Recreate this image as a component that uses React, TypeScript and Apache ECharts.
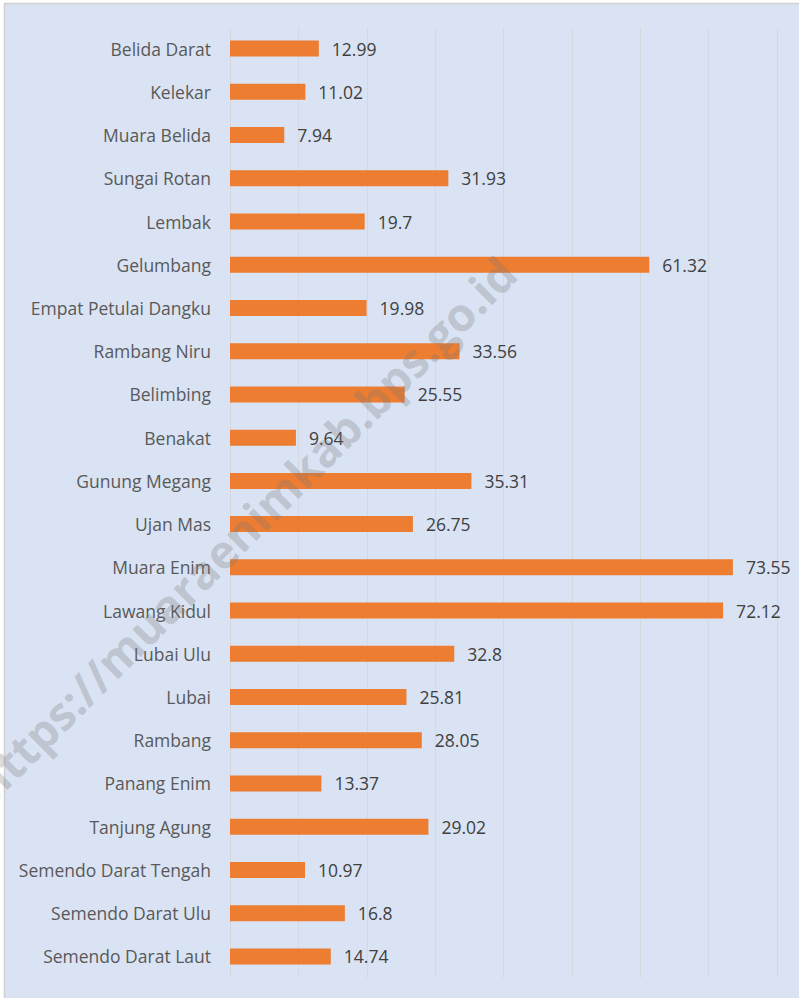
import React, { useEffect, useRef } from "react";
import * as echarts from "echarts";

const categories = [
  "Belida Darat",
  "Kelekar",
  "Muara Belida",
  "Sungai Rotan",
  "Lembak",
  "Gelumbang",
  "Empat Petulai Dangku",
  "Rambang Niru",
  "Belimbing",
  "Benakat",
  "Gunung Megang",
  "Ujan Mas",
  "Muara Enim",
  "Lawang Kidul",
  "Lubai Ulu",
  "Lubai",
  "Rambang",
  "Panang Enim",
  "Tanjung Agung",
  "Semendo Darat Tengah",
  "Semendo Darat Ulu",
  "Semendo Darat Laut",
];

const values = [
  12.99, 11.02, 7.94, 31.93, 19.7, 61.32, 19.98, 33.56, 25.55, 9.64, 35.31,
  26.75, 73.55, 72.12, 32.8, 25.81, 28.05, 13.37, 29.02, 10.97, 16.8, 14.74,
];

const watermark = "https://muaraenimkab.bps.go.id";

export default function App() {
  const ref = useRef<HTMLDivElement>(null);

  useEffect(() => {
    if (!ref.current) return;
    const chart = echarts.init(ref.current, null, { renderer: "svg" });
    chart.setOption({
      animation: false,
      backgroundColor: "#ffffff",
      textStyle: { fontFamily: "Open Sans" },
      grid: { left: 230, right: 22, top: 27, bottom: 20, containLabel: false },
      xAxis: {
        type: "value",
        min: 0,
        max: 80,
        interval: 10,
        axisLabel: { show: false },
        axisLine: { show: false },
        axisTick: { show: false },
        splitLine: { show: true, lineStyle: { color: "#d5d8dd", width: 1 } },
      },
      yAxis: {
        type: "category",
        data: categories,
        inverse: true,
        axisLine: { show: false },
        axisTick: { show: false },
        splitLine: { show: false },
        axisLabel: {
          margin: 19,
          color: "#595959",
          fontSize: 17.5,
          fontFamily: "Open Sans",
        },
      },
      series: [
        {
          type: "bar",
          data: values,
          barWidth: 16,
          itemStyle: { color: "#ed7d31" },
          label: {
            show: true,
            position: "right",
            distance: 13,
            color: "#404040",
            fontSize: 17.5,
            fontFamily: "Open Sans",
          },
          z: 2,
        },
      ],
      graphic: [
        {
          type: "rect",
          z: -10,
          silent: true,
          shape: { x: 4.5, y: 3.5, width: 800, height: 1000 },
          style: { fill: "#dae3f3", stroke: "#d0d0d0", lineWidth: 1.5 },
        },
        {
          type: "text",
          z: 100,
          silent: true,
          x: 244,
          y: 528,
          rotation: Math.PI / 4,
          style: {
            text: watermark,
            fontSize: 46,
            fontWeight: "bold",
            fontFamily: "Open Sans",
            fill: "rgba(120,120,120,0.3)",
            align: "center",
            verticalAlign: "middle",
          },
        },
      ],
    });
    return () => chart.dispose();
  }, []);

  return (
    <div
      ref={ref}
      style={{ position: "absolute", left: 0, top: 0, width: 799, height: 998 }}
    />
  );
}
